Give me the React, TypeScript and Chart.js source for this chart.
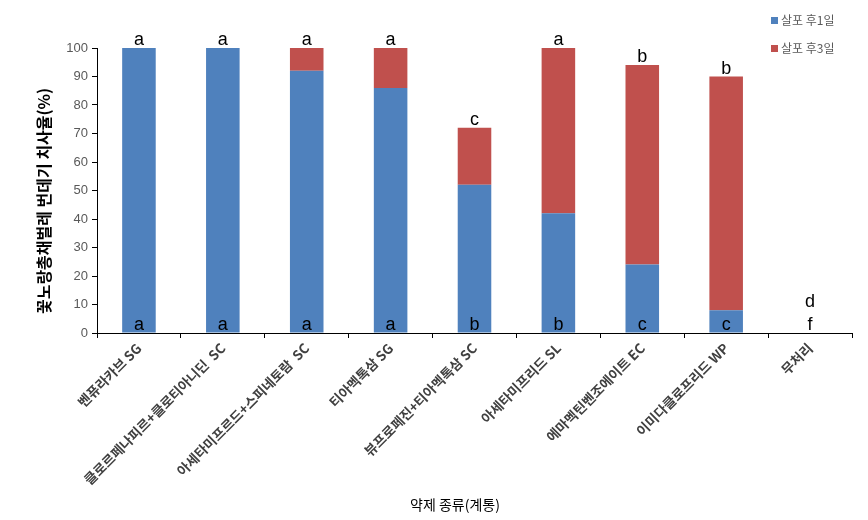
import React, { useEffect, useRef } from "react";
import { Chart, registerables } from "chart.js";

Chart.register(...registerables);

const categories = [
  "벤퓨라카브 SG",
  "클로르페나피르+클로티아니딘  SC",
  "아세타미프르드+스피네토람  SC",
  "티아멕톡삼 SG",
  "뷰프로페진+티아멕톡삼 SC",
  "아세타미프리드 SL",
  "에마멕틴벤조에이트 EC",
  "이미다클로프리드 WP",
  "무처리",
];
const day1 = [100, 100, 92, 86, 52, 42, 24, 8, 0];
const day3 = [0, 0, 8, 14, 20, 58, 70, 82, 0];
const topLetters = ["a", "a", "a", "a", "c", "a", "b", "b", "d"];
const bottomLetters = ["a", "a", "a", "a", "b", "b", "c", "c", "f"];
const seriesNames = ["살포 후1일", "살포 후3일"];
const yTitle = "꽃노랑총채벌레 번데기 치사율(%)";
const xTitle = "약제 종류(계통)";

const BLUE = "#4F81BD";
const RED = "#C0504D";
const KFONT = "'Noto Sans CJK KR', 'Noto Sans', sans-serif";

export default function App() {
  const ref = useRef<HTMLCanvasElement | null>(null);
  useEffect(() => {
    document.body.style.margin = "0";
    const ctx = ref.current!.getContext("2d")!;
    const overlay = {
      id: "overlay",
      afterDraw(chart: any) {
        const c = chart.ctx;
        const xs = chart.scales.x;
        const ys = chart.scales.y;
        c.save();
        c.fillStyle = "#000";
        c.font = `18px 'Liberation Sans', Arial, sans-serif`;
        c.textAlign = "center";
        c.textBaseline = "alphabetic";
        const zero = ys.getPixelForValue(0);
        const bottomBase = zero - 3;
        for (let i = 0; i < categories.length; i++) {
          const x = xs.getPixelForValue(i);
          const total = day1[i] + day3[i];
          const topBase = Math.min(ys.getPixelForValue(total) - 3, bottomBase - 23);
          c.fillText(topLetters[i], x, topBase);
          c.fillText(bottomLetters[i], x, bottomBase);
        }
        // legend
        c.font = `12px ${KFONT}`;
        c.textAlign = "left";
        c.textBaseline = "middle";
        const lx = 771;
        const lys = [20, 48];
        const cols = [BLUE, RED];
        for (let k = 0; k < 2; k++) {
          c.fillStyle = cols[k];
          c.fillRect(lx, lys[k] - 3, 7, 7);
          c.fillStyle = "#595959";
          c.fillText(seriesNames[k], lx + 10, lys[k]);
        }
        // y title
        c.save();
        c.translate(44, 201);
        c.rotate(-Math.PI / 2);
        c.fillStyle = "#000";
        c.font = `bold 16px ${KFONT}`;
        c.textAlign = "center";
        c.textBaseline = "middle";
        c.fillText(yTitle, 0, 0);
        c.restore();
        // x title
        c.fillStyle = "#000";
        c.font = `14px ${KFONT}`;
        c.textAlign = "center";
        c.textBaseline = "middle";
        c.fillText(xTitle, 455, 505);
        c.restore();
      },
    };
    const chart = new Chart(ctx, {
      type: "bar",
      data: {
        labels: categories,
        datasets: [
          { label: seriesNames[0], data: day1, backgroundColor: BLUE, barPercentage: 0.4, categoryPercentage: 1 },
          { label: seriesNames[1], data: day3, backgroundColor: RED, barPercentage: 0.4, categoryPercentage: 1 },
        ],
      },
      options: {
        animation: false,
        responsive: false,
        layout: { padding: { top: 48, right: 16, left: 0, bottom: 0 } },
        plugins: { legend: { display: false }, tooltip: { enabled: false } },
        scales: {
          x: {
            stacked: true,
            grid: { display: true, offset: true, drawOnChartArea: false, drawTicks: true, tickLength: 5, color: "#000" },
            border: { color: "#000", width: 1 },
            ticks: {
              maxRotation: 45,
              minRotation: 45,
              autoSkip: false,
              color: "#404040",
              font: { size: 13.5, weight: "bold", family: KFONT },
              padding: 2,
            },
            afterFit: (s: any) => { s.height = 187; },
          },
          y: {
            stacked: true,
            min: 0,
            max: 100,
            ticks: { stepSize: 10, color: "#595959", font: { size: 13, family: "'Liberation Sans', Arial, sans-serif" }, padding: 4 },
            grid: { display: true, drawOnChartArea: false, drawTicks: true, tickLength: 5, color: "#000" },
            border: { color: "#000", width: 1 },
            afterFit: (s: any) => { s.width = 97; },
          },
        },
      },
      plugins: [overlay],
    });
    return () => chart.destroy();
  }, []);
  return (
    <div style={{ width: 868, height: 520 }}>
      <canvas ref={ref} width={868} height={520} style={{ display: "block" }} />
    </div>
  );
}
